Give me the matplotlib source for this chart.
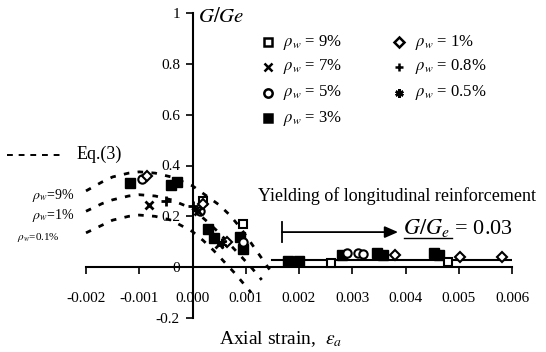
import matplotlib
matplotlib.use("Agg")
import matplotlib.pyplot as plt

plt.rcParams['font.family'] = ['Liberation Serif', 'DejaVu Serif']
plt.rcParams['mathtext.fontset'] = 'stix'

# Eq.(3) curves
eq_x_9 = [-0.002, -0.0017, -0.0015, -0.0012, -0.001, -0.0007, -0.0004, 0.0, 0.0003, 0.0005, 0.0007, 0.0009, 0.0011, 0.0013, 0.00145]
eq_y_9 = [0.30, 0.335, 0.355, 0.37, 0.375, 0.37, 0.355, 0.32, 0.275, 0.245, 0.205, 0.155, 0.095, 0.035, -0.01]
eq_x_1 = [-0.002, -0.0017, -0.0015, -0.0012, -0.001, -0.0007, -0.0004, 0.0, 0.0003, 0.0005, 0.0007, 0.0009, 0.0011, 0.0013]
eq_y_1 = [0.22, 0.25, 0.265, 0.28, 0.285, 0.28, 0.265, 0.23, 0.175, 0.135, 0.09, 0.045, 0.0, -0.05]
eq_x_01 = [-0.002, -0.0017, -0.0015, -0.0012, -0.001, -0.0007, -0.0004, 0.0, 0.0002, 0.0004, 0.0006, 0.0008, 0.001, 0.0011]
eq_y_01 = [0.135, 0.165, 0.185, 0.2, 0.205, 0.2, 0.185, 0.14, 0.105, 0.065, 0.02, -0.025, -0.075, -0.1]

# Test data
sq9_x = [0.00095, 0.0026, 0.0048, 0.0002]
sq9_y = [0.17, 0.015, 0.02, 0.26]
x7_x = [-0.00081, 0.0005, 0.0001]
x7_y = [0.245, 0.09, 0.22]
c5_x = [-0.00095, 0.00015, 0.00095, 0.0029, 0.0031, 0.0032]
c5_y = [0.345, 0.22, 0.10, 0.055, 0.055, 0.05]
f3_x = [-0.00118, -0.0004, -0.0003, 0.0003, 0.0004, 0.00095, 0.0009, 0.0018, 0.002, 0.0028, 0.00347, 0.00357, 0.00454, 0.00463]
f3_y = [0.33, 0.325, 0.335, 0.15, 0.115, 0.07, 0.12, 0.025, 0.025, 0.047, 0.055, 0.047, 0.055, 0.047]
d1_x = [-0.00085, 0.0002, 0.00065, 0.0038, 0.00503, 0.00582]
d1_y = [0.36, 0.25, 0.10, 0.047, 0.04, 0.04]
p08_x = [-0.00049, 0.0]
p08_y = [0.26, 0.24]
s05_x = [0.00055]
s05_y = [0.095]

yield_x = [0.0015, 0.006]
yield_y = [0.03, 0.03]

xticks = [-0.002, -0.001, 0.0, 0.001, 0.002, 0.003, 0.004, 0.005, 0.006]
xticklabels = ['-0.002', '-0.001', '0.000', '0.001', '0.002', '0.003', '0.004', '0.005', '0.006']
yticks = [-0.2, 0, 0.2, 0.4, 0.6, 0.8, 1]
yticklabels = ['-0.2', '0', '0.2', '0.4', '0.6', '0.8', '1']

W, H = 546, 352
fig = plt.figure(figsize=(W / 100, H / 100), dpi=100)
ax = fig.add_axes([86 / W, 1 - 318 / H, 426 / W, 305 / H])
ax.set_xlim(-0.002, 0.006)
ax.set_ylim(-0.2, 1.0)

for xs, ys in [(eq_x_9, eq_y_9), (eq_x_1, eq_y_1), (eq_x_01, eq_y_01)]:
    ax.plot(xs, ys, color='black', lw=2, ls=(0, (2, 3)), clip_on=False)

ax.plot(yield_x, yield_y, color='black', lw=1.5)

mk = dict(linestyle='none', color='black', clip_on=False, zorder=5)
ax.plot(f3_x, f3_y, marker='s', ms=7, mfc='black', **mk)
ax.plot(sq9_x, sq9_y, marker='s', ms=6, mfc='white', mew=1.5, **mk)
ax.plot(c5_x, c5_y, marker='o', ms=6, mfc='white', mew=1.5, **mk)
ax.plot(d1_x, d1_y, marker='D', ms=5, mfc='white', mew=1.5, **mk)
ax.plot(x7_x, x7_y, marker='x', ms=6, mew=2, **mk)
ax.plot(p08_x, p08_y, marker='+', ms=7, mew=2, **mk)
ax.plot(s05_x, s05_y, marker=(6, 2, 0), ms=7, mew=1.5, **mk)

# spines
for s in ['top', 'right']:
    ax.spines[s].set_visible(False)
ax.spines['left'].set_position(('data', 0))
ax.spines['bottom'].set_position(('data', 0))
ax.spines['left'].set_linewidth(1.5)
ax.spines['bottom'].set_linewidth(1.5)
ax.set_xticks(xticks)
ax.set_xticklabels(xticklabels, fontsize=11)
ax.set_yticks(yticks)
ax.set_yticklabels(yticklabels, fontsize=11)
ax.tick_params(axis='x', direction='out', length=5, width=1.2, pad=13)
ax.tick_params(axis='y', direction='out', length=5, width=1.2, pad=4)

def ftext(px, py, s, **kw):
    fig.text(px / W, 1 - py / H, s, **kw)

def fline(xs, ys, **kw):
    fig.lines.append(plt.Line2D([x / W for x in xs], [1 - y / H for y in ys],
                                transform=fig.transFigure, **kw))

ftext(198, 18, r'$G/Ge$', fontsize=15, va='center', ha='left')

# legend
rows = [42, 67, 93, 118]
leg1 = [('s', 'white', r'$\rho_w$ = 9%'), ('x', 'black', r'$\rho_w$ = 7%'),
        ('o', 'white', r'$\rho_w$ = 5%'), ('s', 'black', r'$\rho_w$ = 3%')]
leg2 = [('D', 'white', r'$\rho_w$ = 1%'), ('+', 'black', r'$\rho_w$ = 0.8%'),
        ((6, 2, 0), 'black', r'$\rho_w$ = 0.5%')]
for col, (mx, tx) in zip([leg1, leg2], [(268, 283), (399, 415)]):
    for (m, fc, lab), ry in zip(col, rows):
        fline([mx], [ry], marker=m, ms=6 if m != 'D' else 5,
              mfc=fc, mec='black', mew=1.8, color='black', linestyle='none')
        ftext(tx, ry, lab, fontsize=12, va='center', ha='left')

# Eq.(3) legend
fline([7, 62], [155, 155], color='black', lw=1.4, ls=(0, (3, 3)))
ftext(77, 154, 'Eq.(3)', fontsize=13, va='center', ha='left')

ftext(32, 195, r'$\rho_w$=9%', fontsize=10, va='center', ha='left')
ftext(32, 216, r'$\rho_w$=1%', fontsize=10, va='center', ha='left')
ftext(17, 237, r'$\rho_w$=0.1%', fontsize=8, va='center', ha='left')

ftext(258, 196, 'Yielding of longitudinal reinforcement', fontsize=13, va='center', ha='left')
ax.annotate('', xy=(0.00386, 0.138), xytext=(0.00168, 0.138),
            arrowprops=dict(arrowstyle='-|>,head_length=0.8,head_width=0.35',
                            color='black', lw=1.3, shrinkA=0, shrinkB=0))
ax.plot([0.00168, 0.00168], [0.099, 0.178], color='black', lw=1.3)
ftext(403, 228, r'$G/G_e$ = 0.03', fontsize=16, va='center', ha='left')
fline([404, 452], [238, 238], color='black', lw=1.0)

ftext(281, 339, r'Axial strain,  $\varepsilon_a$', fontsize=14, va='center', ha='center')

fig.savefig('out.png', dpi=100)
